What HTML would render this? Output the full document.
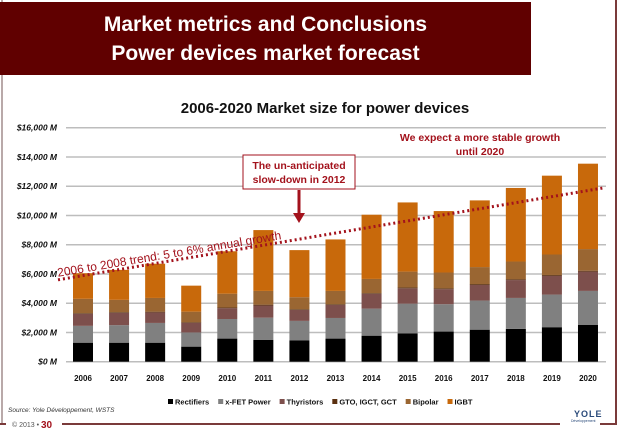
<!DOCTYPE html>
<html><head><meta charset="utf-8"><style>
body{margin:0;width:620px;height:429px;overflow:hidden;background:#fff;font-family:"Liberation Sans",sans-serif;position:relative}
.hdr{position:absolute;left:0;top:2px;width:531px;height:73px;background:#600000;color:#fff;text-align:center;font-size:21px;font-weight:bold;line-height:29px;padding-top:8px;box-sizing:border-box}
</style></head><body>
<div style="position:absolute;left:1px;top:0;width:2px;height:424px;background:#b9a9a9"></div>
<div style="position:absolute;left:615px;top:0;width:2px;height:424px;background:#7a3a3a"></div>
<div class="hdr">Market metrics and Conclusions<br>Power devices market forecast</div>
<svg id="chart" width="620" height="429" style="position:absolute;left:0;top:0"></svg>
<script>
const years=["2006","2007","2008","2009","2010","2011","2012","2013","2014","2015","2016","2017","2018","2019","2020"];
const rectifiers=[1300,1300,1300,1030,1580,1500,1450,1580,1780,1940,2060,2190,2240,2360,2510];
const xfet=[1150,1200,1350,970,1340,1510,1340,1410,1850,2030,1870,1990,2120,2230,2330];
const thyristors=[820,840,720,650,740,830,750,890,1010,1050,1030,1070,1220,1280,1320];
const gto=[50,50,50,50,50,60,50,50,50,60,60,60,60,60,60];
const bipolar=[980,840,940,720,940,940,820,910,970,1080,1080,1160,1210,1400,1480];
const igbt=[1750,2050,2340,1780,2900,4160,3220,3520,4390,4730,4200,4560,5030,5390,5840];
const yTicks=[0,2000,4000,6000,8000,10000,12000,14000,16000];
const yTickLabels=["$0 M","$2,000 M","$4,000 M","$6,000 M","$8,000 M","$10,000 M","$12,000 M","$14,000 M","$16,000 M"];
const seriesNames=["Rectifiers","x-FET Power","Thyristors","GTO, IGCT, GCT","Bipolar","IGBT"];
const trendStart=5600, trendEnd=11900;

const NS="http://www.w3.org/2000/svg";
const svg=document.getElementById('chart');
const colors=["#000000","#808080","#7d4f4c","#5a3010","#9a6632","#c8690b"];
const series=[rectifiers,xfet,thyristors,gto,bipolar,igbt];
const x0=66,x1=606,y0=361.7,yMax=16000,yTop=127.7;
const ys=v=>y0-(v/yMax)*(y0-yTop);
const step=36.07, first=83;
const xs=i=>first+i*step;
function mk(tag,attrs,txt){const e=document.createElementNS(NS,tag);for(const k in attrs)e.setAttribute(k,attrs[k]);if(txt!=null)e.textContent=txt;svg.appendChild(e);return e;}

yTicks.forEach((t,i)=>{
 const g=mk('line',{x1:x0,x2:x1,y1:ys(t),y2:ys(t),stroke:'#bdbdbd','stroke-width':1.5});
 
 
 const l=mk('text',{x:57,y:ys(t)+3,'text-anchor':'end','font-size':8.5,'font-weight':'bold','font-style':'italic',fill:'#111'},yTickLabels[i]);
 
 
});
years.forEach((yr,i)=>{
 let cum=0;
 series.forEach((s,k)=>{
  const r=mk('rect',{x:xs(i)-10,y:ys(cum+s[i]),width:20,height:ys(cum)-ys(cum+s[i]),fill:colors[k]});
  
  
  cum+=s[i];
 });
 const t=mk('text',{x:xs(i),y:381,'text-anchor':'middle','font-size':8,'font-weight':'bold',fill:'#111'},yr);
 
 
});
const tl=mk('line',{x1:58,y1:ys(trendStart),x2:605,y2:ys(trendEnd),stroke:'#a3121c','stroke-width':3,'stroke-dasharray':'2 3'});


const ang=Math.atan2(ys(trendEnd)-ys(trendStart),605-58)*180/Math.PI;
const tt=mk('text',{x:58,y:ys(trendStart)-3,'font-size':12,fill:'#a3121c',transform:`rotate(${ang} 58 ${ys(trendStart)-3})`},"2006 to 2008 trend: 5 to 6% annual growth");


const title=mk('text',{x:325,y:113,'text-anchor':'middle','font-size':15,'font-weight':'bold',fill:'#111'},"2006-2020 Market size for power devices");


const bx=mk('rect',{x:243,y:155,width:112,height:34,fill:'#fff',stroke:'#a3121c','stroke-width':1});


[["The un-anticipated",169],["slow-down in 2012",183]].forEach(a=>{const e=mk('text',{x:299,y:a[1],'text-anchor':'middle','font-size':10.5,'font-weight':'bold',fill:'#a3121c'},a[0]);});
const ar=mk('line',{x1:299,y1:190,x2:299,y2:214,stroke:'#a3121c','stroke-width':3});


const ah=mk('polygon',{points:'293,213 305,213 299,223',fill:'#a3121c'});


[["We expect a more stable growth",141],["until 2020",155]].forEach(a=>{const e=mk('text',{x:480,y:a[1],'text-anchor':'middle','font-size':10.5,'font-weight':'bold',fill:'#a3121c'},a[0]);});
let lx=168;
seriesNames.forEach((n,k)=>{
 const r=mk('rect',{x:lx,y:399,width:5,height:5,fill:colors[k]});
 
 
 const t=mk('text',{x:lx+7,y:404.5,'font-size':7.5,'font-weight':'bold',fill:'#111'},n);
 
 
 lx+=7+t.getComputedTextLength()+9;
});
const src=mk('text',{x:8,y:412,'font-size':6.5,'font-style':'italic',fill:'#333'},"Source: Yole Développement, WSTS");


const bl=mk('line',{x1:0,y1:424,x2:6,y2:424,stroke:'#7a3a3a','stroke-width':2});
const bl2=mk('line',{x1:62,y1:424,x2:560,y2:424,stroke:'#7a3a3a','stroke-width':2});
const bl3=mk('line',{x1:600,y1:424,x2:617,y2:424,stroke:'#7a3a3a','stroke-width':2});
const pg=mk('text',{x:12,y:427,'font-size':7,fill:'#555'},"© 2013 • ");
const pn=mk('text',{x:41,y:428,'font-size':10,'font-weight':'bold',fill:'#a3121c'},"30");
const lg=mk('text',{x:574,y:417,'font-size':9,'font-weight':'bold',fill:'#2a4a7a','letter-spacing':'1'},"YOLE");
const lg2=mk('text',{x:571,y:422,'font-size':3.5,fill:'#2a4a7a'},"Développement");
</script>
</body></html>
